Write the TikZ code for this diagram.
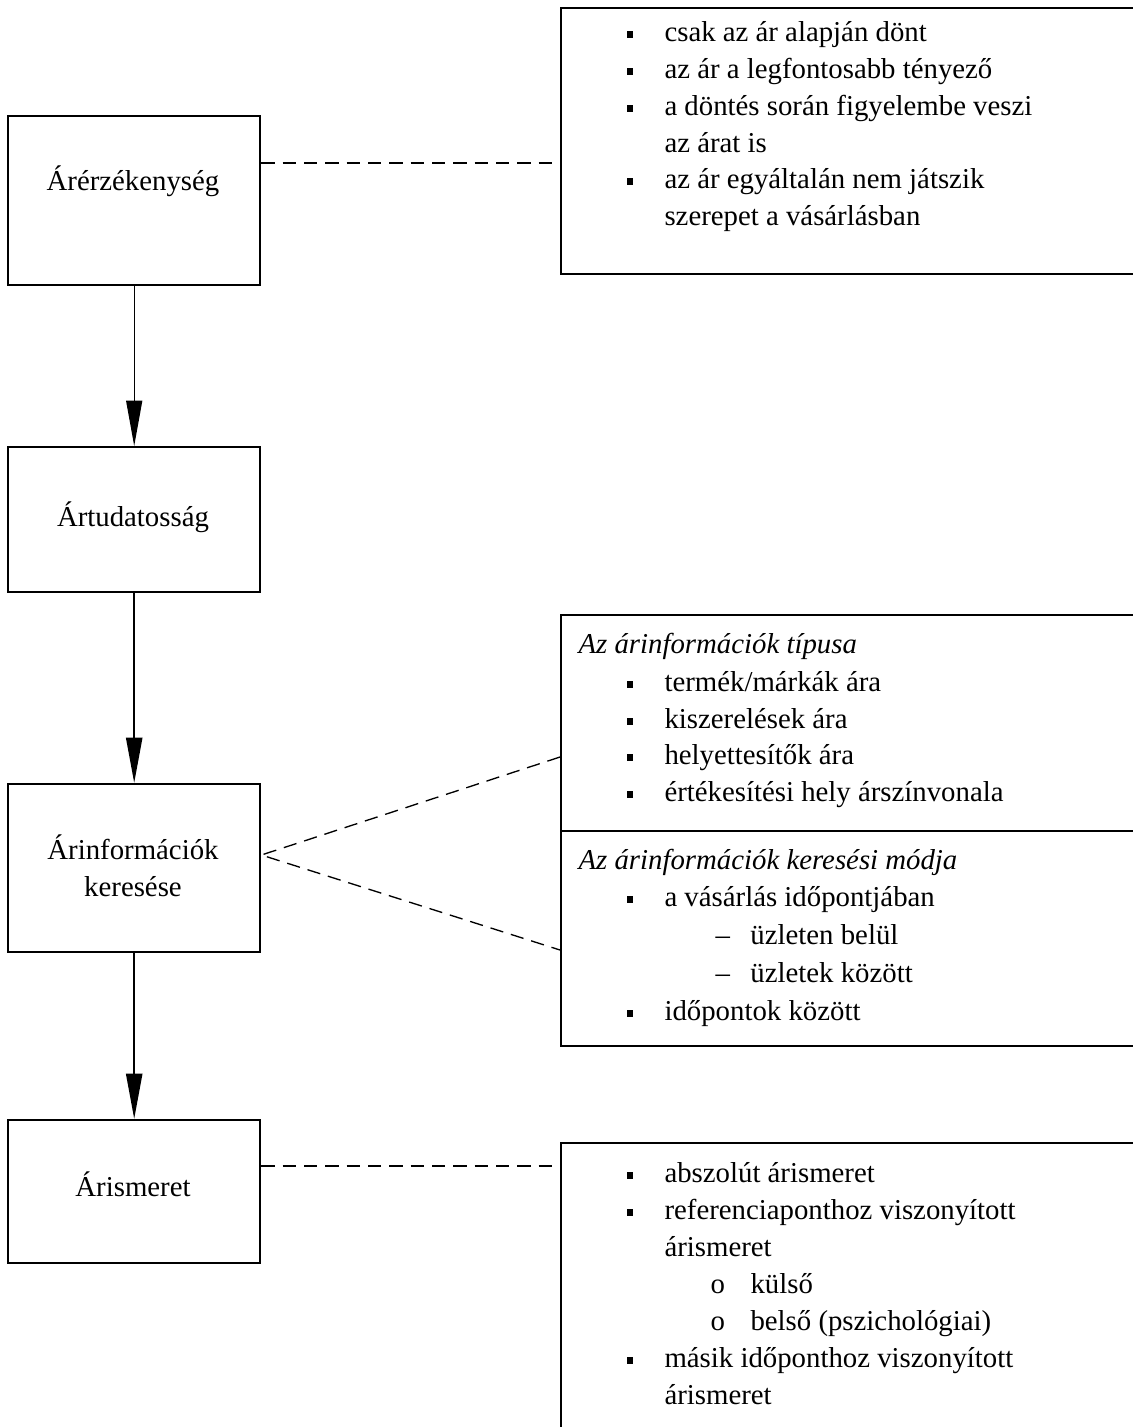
\documentclass[tikz,border=0pt]{standalone}
\usepackage{fontspec}
\setmainfont{Liberation Serif}
\usetikzlibrary{arrows.meta}
% list markers
\newcommand\sqb{\rule[1.3pt]{2.5pt}{2.5pt}}
\newcommand\blt[1]{\makebox[14.25pt][l]{\sqb}#1}
\newcommand\dsh[1]{\makebox[13.1pt][l]{–}#1}
\newcommand\crc[1]{\makebox[15pt][l]{o}#1}
\begin{document}
\begin{tikzpicture}[x=0.375pt,y=-0.375pt,
  box/.style={draw, line width=0.9pt, rectangle, inner sep=0pt, anchor=north west},
  lbox/.style={box, minimum width=94.5pt},
  rbox/.style={box, minimum width=217.5pt},
  txt/.style={inner sep=0pt, anchor=base, font=\fontsize{10.8pt}{13pt}\selectfont},
  line/.style={inner sep=0pt, anchor=base west, font=\fontsize{10.8pt}{13pt}\selectfont},
  flow/.style={-{Triangle[length=17pt,width=6pt]}},
  link/.style={dash pattern=on 5pt off 3pt}
]
\useasboundingbox (0,0) rectangle (1133,1427);
\clip (0,0) rectangle (1133,1427);

% left column
\node[lbox, minimum height=63.375pt] (b1) at (7,115) {};
\node[lbox, minimum height=54.375pt] (b2) at (7,446) {};
\node[lbox, minimum height=63pt]     (b3) at (7,783) {};
\node[lbox, minimum height=53.625pt] (b4) at (7,1119) {};

\node[txt] (l1) at (133,190) {Árérzékenység};
\node[txt] (l2) at (133,526) {Ártudatosság};
\node[txt] (l3a) at (133,859) {Árinformációk};
\node[txt] (l3b) at (133,896) {keresése};
\node[txt] (l4) at (133,1196) {Árismeret};

% right column
\node[rbox, minimum height=99.75pt]  (r1)  at (560,7) {};
\node[rbox, minimum height=81pt]     (r2a) at (560,614) {};
\node[rbox, minimum height=80.625pt] (r2b) at (560,830) {};
\node[rbox, minimum height=112.5pt]  (r3)  at (560,1142) {};

% list in the first box
\node[line] (p1) at (626,41)  {\blt{csak az ár alapján dönt}};
\node[line] (p2) at (626,78)  {\blt{az ár a legfontosabb tényező}};
\node[line] (p3) at (626,115) {\blt{a döntés során figyelembe veszi}};
\node[line] (p4) at (664,152) {az árat is};
\node[line] (p5) at (626,188) {\blt{az ár egyáltalán nem játszik}};
\node[line] (p6) at (664,225) {szerepet a vásárlásban};

% types of price information
\node[line] (q0) at (578,653) {\itshape Az árinformációk típusa};
\node[line] (q1) at (626,691) {\blt{termék/márkák ára}};
\node[line] (q2) at (626,728) {\blt{kiszerelések ára}};
\node[line] (q3) at (626,764) {\blt{helyettesítők ára}};
\node[line] (q4) at (626,801) {\blt{értékesítési hely árszínvonala}};

% ways of searching
\node[line] (s0) at (578,869) {\itshape Az árinformációk keresési módja};
\node[line] (s1) at (626,906) {\blt{a vásárlás időpontjában}};
\node[line] (s2) at (715,944) {\dsh{üzleten belül}};
\node[line] (s3) at (715,982) {\dsh{üzletek között}};
\node[line] (s4) at (626,1020) {\blt{időpontok között}};

% kinds of price knowledge
\node[line] (k1) at (626,1182) {\blt{abszolút árismeret}};
\node[line] (k2) at (626,1219) {\blt{referenciaponthoz viszonyított}};
\node[line] (k3) at (664,1256) {árismeret};
\node[line] (k4) at (710,1293) {\crc{külső}};
\node[line] (k5) at (710,1330) {\crc{belső (pszichológiai)}};
\node[line] (k6) at (626,1367) {\blt{másik időponthoz viszonyított}};
\node[line] (k7) at (664,1404) {árismeret};

% flow arrows
\draw[flow, line width=0.5pt]  (b1.south) -- (b2.north);
\draw[flow, line width=0.9pt] (b2.south) -- (b3.north);
\draw[flow, line width=0.9pt] (b3.south) -- (b4.north);

% dashed links
\draw[link, line width=0.9pt] (b1.east |- 0,163) -- (r1.west |- 0,163);
\coordinate (v) at (b3.east |- 0,855);
\draw[link, line width=0.5pt] (r2a.west |- 0,757) -- (v) -- (r2b.west |- 0,950);
\draw[link, line width=0.4pt] (b4.east |- 0,1166) -- (r3.west |- 0,1166);
\end{tikzpicture}
\end{document}
